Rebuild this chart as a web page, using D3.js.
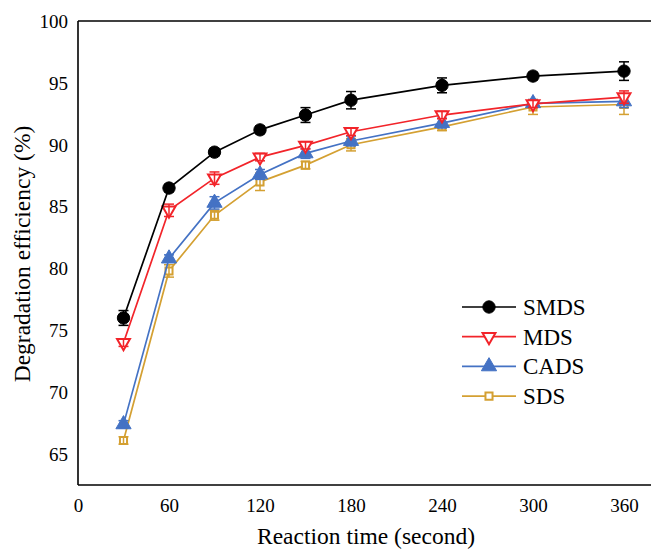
<!DOCTYPE html>
<html><head><meta charset="utf-8">
<script src="https://cdn.jsdelivr.net/npm/d3@7"></script>
<style>body{margin:0;background:#fff}svg{display:block}text{font-family:"Liberation Serif","Times New Roman",serif !important;fill:#000}</style>
</head><body><svg id="c" width="651" height="550"></svg>
<script>
const times = [30, 60, 90, 120, 150, 180, 240, 300, 360];
const xTicks = [0, 60, 120, 180, 240, 300, 360];
const yTicks = [65, 70, 75, 80, 85, 90, 95, 100];
const seriesNames = ["SMDS", "MDS", "CADS", "SDS"];
const smds = [76.0, 86.5, 89.4, 91.2, 92.4, 93.6, 94.8, 95.55, 95.95];
const smdsErr = [0.6, 0.3, 0.3, 0.3, 0.6, 0.7, 0.6, 0.3, 0.75];
const mds = [74.0, 84.7, 87.3, 89.0, 89.95, 91.05, 92.4, 93.3, 93.85];
const mdsErr = [0.3, 0.5, 0.5, 0.3, 0.3, 0.3, 0.3, 0.3, 0.5];
const cads = [67.4, 80.8, 85.3, 87.6, 89.3, 90.3, 91.75, 93.35, 93.5];
const cadsErr = [0.3, 0.3, 0.5, 0.4, 0.4, 0.4, 0.4, 0.3, 0.5];
const sds = [66.1, 79.8, 84.3, 87.0, 88.35, 90.0, 91.45, 93.05, 93.25];
const sdsErr = [0.3, 0.5, 0.4, 0.7, 0.3, 0.5, 0.3, 0.6, 0.8];

const FONT = "'Liberation Serif', 'Times New Roman', serif";
const svg = d3.select("#c");
const x = d3.scaleLinear().domain([0, 360]).range([78, 624]);
const y = d3.scaleLinear().domain([62.5, 100]).range([485, 21]);

const styles = {
  SMDS: {color: "#000000", sym: d3.symbolCircle, size: 120, fill: true},
  MDS:  {color: "#f2242a", sym: d3.symbolTriangle, size: 72, fill: false, rot: 180},
  CADS: {color: "#4472c4", sym: d3.symbolTriangle, size: 100, fill: true},
  SDS:  {color: "#d4a032", sym: d3.symbolSquare, size: 50, fill: false}
};
const data = {SMDS: [smds, smdsErr], MDS: [mds, mdsErr], CADS: [cads, cadsErr], SDS: [sds, sdsErr]};

// frame
svg.append("line").attr("x1", 78).attr("x2", 660).attr("y1", 21).attr("y2", 21).attr("stroke", "#000").attr("stroke-width", 1.6);
const xAxis = svg.append("g").attr("transform", "translate(0,485)")
  .call(d3.axisBottom(x).tickValues(xTicks).tickSize(0).tickPadding(14))
  .attr("font-family", FONT).attr("font-size", 19);
xAxis.select(".domain").remove();
svg.append("line").attr("x1", 78).attr("x2", 660).attr("y1", 485).attr("y2", 485).attr("stroke", "#000").attr("stroke-width", 1.6);
const yAxis = svg.append("g").attr("transform", "translate(78,0)")
  .call(d3.axisLeft(y).tickValues(yTicks).tickSize(0).tickPadding(10))
  .attr("font-family", FONT).attr("font-size", 19);
yAxis.select(".domain").remove();
yAxis.selectAll("text").attr("dy", "0.33em");
svg.append("line").attr("x1", 78).attr("x2", 78).attr("y1", 21).attr("y2", 485).attr("stroke", "#000").attr("stroke-width", 1.6);

svg.append("text").attr("x", 366).attr("y", 544).attr("text-anchor", "middle").style("font-size", "23.5px").text("Reaction time (second)");
svg.append("text").attr("transform", "translate(30,254) rotate(-90)").attr("text-anchor", "middle").style("font-size", "23.5px").text("Degradation efficiency (%)");

const line = d3.line().x((d, i) => x(times[i])).y(d => y(d));
function marker(g, st, cx, cy) {
  g.append("path").attr("d", d3.symbol().type(st.sym).size(st.size)())
    .attr("transform", `translate(${cx},${cy})` + (st.rot ? ` rotate(${st.rot})` : ""))
    .attr("fill", st.fill ? st.color : "#fff").attr("stroke", st.color).attr("stroke-width", st.fill ? 1 : 2);
}
["SDS", "CADS", "MDS", "SMDS"].forEach(name => {
  const st = styles[name];
  const [vals, errs] = data[name];
  const g = svg.append("g");
  g.append("path").datum(vals).attr("d", line).attr("fill", "none").attr("stroke", st.color).attr("stroke-width", 1.7);
  vals.forEach((v, i) => {
    const cx = x(times[i]);
    marker(g, st, cx, y(v));
    const y0 = y(v - errs[i]), y1 = y(v + errs[i]);
    g.append("line").attr("x1", cx).attr("x2", cx).attr("y1", y0).attr("y2", y1).attr("stroke", st.color).attr("stroke-width", 1.5);
    [y0, y1].forEach(yy => g.append("line").attr("x1", cx - 5).attr("x2", cx + 5).attr("y1", yy).attr("y2", yy).attr("stroke", st.color).attr("stroke-width", 1.5));
  });
});

// legend
const leg = svg.append("g");
seriesNames.forEach((name, i) => {
  const st = styles[name];
  const ly = 307 + i * 29.7;
  leg.append("line").attr("x1", 462).attr("x2", 516).attr("y1", ly).attr("y2", ly).attr("stroke", st.color).attr("stroke-width", 1.7);
  marker(leg, st, 489, ly);
  leg.append("text").attr("x", 523).attr("y", ly + 8).style("font-size", "23px").text(name);
});
</script></body></html>
